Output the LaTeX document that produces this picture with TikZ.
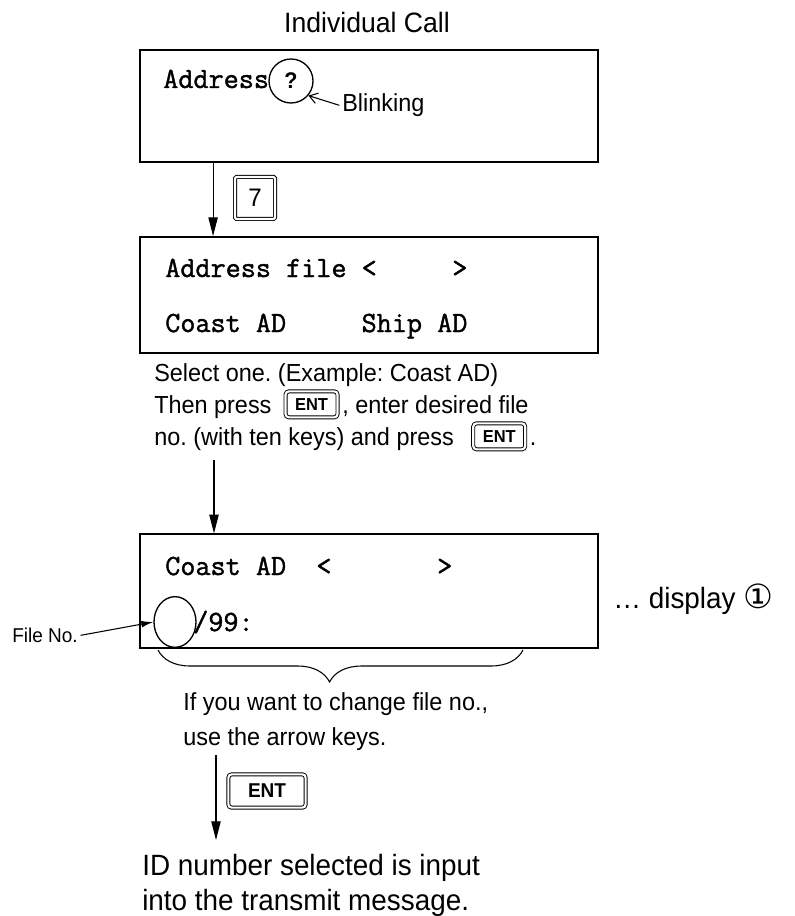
\documentclass[tikz,border=0pt]{standalone}
\usepackage{fontspec}
\setmainfont{Liberation Sans}[FakeStretch=0.95]
\setmonofont{Latin Modern Mono}[FakeBold=1.4]
\newfontfamily\symfont{DejaVu Sans}
\usepackage{tikz}
\usetikzlibrary{calc,arrows.meta,decorations.pathreplacing,positioning,shapes.geometric}
\frenchspacing

\begin{document}
\begin{tikzpicture}[x=0.75pt, y=-0.75pt,
    screen/.style={draw, line width=1.4pt, minimum width=343.5pt, inner sep=0pt},
    keycap/.style={draw, double, double distance=1.6pt, line width=0.7pt, rounded corners=2.5pt, inner sep=0pt, font=\fontsize{13}{13}\selectfont\bfseries},
    flow/.style={line width=0.8pt, -{Triangle[length=14pt,width=7pt]}},
    lcd/.style={anchor=base west, inner sep=0pt, font=\fontsize{22}{22}\selectfont\ttfamily},
    note/.style={anchor=base west, inner sep=0pt, font=\fontsize{18.5}{20}\selectfont}]
    \useasboundingbox (0,0) rectangle (794,916);

    \node[anchor=base, inner sep=0pt, font=\fontsize{21}{24}\selectfont] (title) at (367,33) {Individual Call};

    % first screen
    \node[screen, minimum height=84pt] (scr1) at (369,106) {};
    \node[lcd] (addr) at (163,88) {Address};
    \node[draw, circle, line width=1pt, minimum size=33pt, inner sep=0pt, font=\fontsize{17}{17}\selectfont\bfseries] (qmark) at (291,81) {?};
    \node[note] (blink) at (342,112) {Blinking};
    \draw[line width=0.8pt, -{Straight Barb[length=6pt,width=8pt]}] ([xshift=-2pt,yshift=5pt]blink.base west) -- (qmark.-40);

    % second screen
    \node[screen, minimum height=87pt] (scr2) at (369,295) {};
    \node[lcd] (afile) at (165,277) {Address file <~~~~~>};
    \node[lcd] (choice) at (165,332) {Coast AD~~~~~Ship AD};

    \node[keycap, minimum width=30pt, minimum height=31.5pt, rounded corners=1pt, font=\fontsize{19}{19}\selectfont] (key7) at (255,198) {7};
    \draw[flow] ($(scr1.south west)+(74,0)$) -- ($(scr2.north west)+(74,0)$);

    \node[note] (sel1) at (154,381) {Select one. (Example: Coast AD)};
    \node[note] (sel2) at (154,413) {Then press};
    \node[keycap, minimum width=39pt, minimum height=19.5pt, anchor=west] (ent1) at ([xshift=10pt,yshift=6.5pt]sel2.base east) {ENT};
    \node[note] (sel2b) at ([xshift=3pt]ent1.east |- sel2.base) {, enter desired file};
    \node[note] (sel3) at (154,445) {no. (with ten keys) and press};
    \node[keycap, minimum width=39pt, minimum height=19.5pt, anchor=west] (ent2) at ([xshift=14pt,yshift=6.5pt]sel3.base east) {ENT};
    \node[note] (sel3b) at ([xshift=3pt]ent2.east |- sel3.base) {.};

    % third screen
    \node[screen, minimum height=85pt] (scr3) at (369,591) {};
    \node[lcd] (coast) at (165,575) {Coast AD~~<~~~~~~~>};
    \node[draw, ellipse, line width=1pt, minimum width=31.5pt, minimum height=38pt, inner sep=0pt] (fileno) at (175,622) {};
    \node[lcd] (nn) at (193,631) {/99:};
    \node[note, font=\fontsize{15}{17}\selectfont] (fno) at (12,642) {File No.};
    \draw[line width=0.8pt, -{Latex[length=9pt,width=5pt]}] ([xshift=2pt,yshift=5pt]fno.base east) -- (fileno.west);
    \node[note, font=\fontsize{22}{24}\selectfont] (disp) at (613,608) {… display {\symfont\fontsize{25}{26}\selectfont ①}};

    \coordinate (a2) at (214,460);
    \draw[flow] (a2) -- (a2 |- scr3.north);

    \coordinate (brl) at (158,650);
    \coordinate (brr) at (523,650);
    \draw[line width=0.8pt, decorate, decoration={brace, mirror, amplitude=24pt, aspect=0.47}] (brl) -- (brr);
    \node[note] (hint1) at (183,710) {If you want to change file no.,};
    \node[note] (hint2) at (183,745) {use the arrow keys.};

    \coordinate (a3) at (216,755);
    \coordinate (a3e) at (216,840);
    \draw[flow] (a3) -- (a3e);
    \node[keycap, minimum width=58pt, minimum height=25pt, font=\fontsize{15}{15}\selectfont\bfseries] (ent3) at (267,791) {ENT};

    \node[note, font=\fontsize{22}{24}\selectfont] (res1) at (142,875) {ID number selected is input};
    \node[note, font=\fontsize{22}{24}\selectfont] (res2) at (142,910) {into the transmit message.};
\end{tikzpicture}
\end{document}
